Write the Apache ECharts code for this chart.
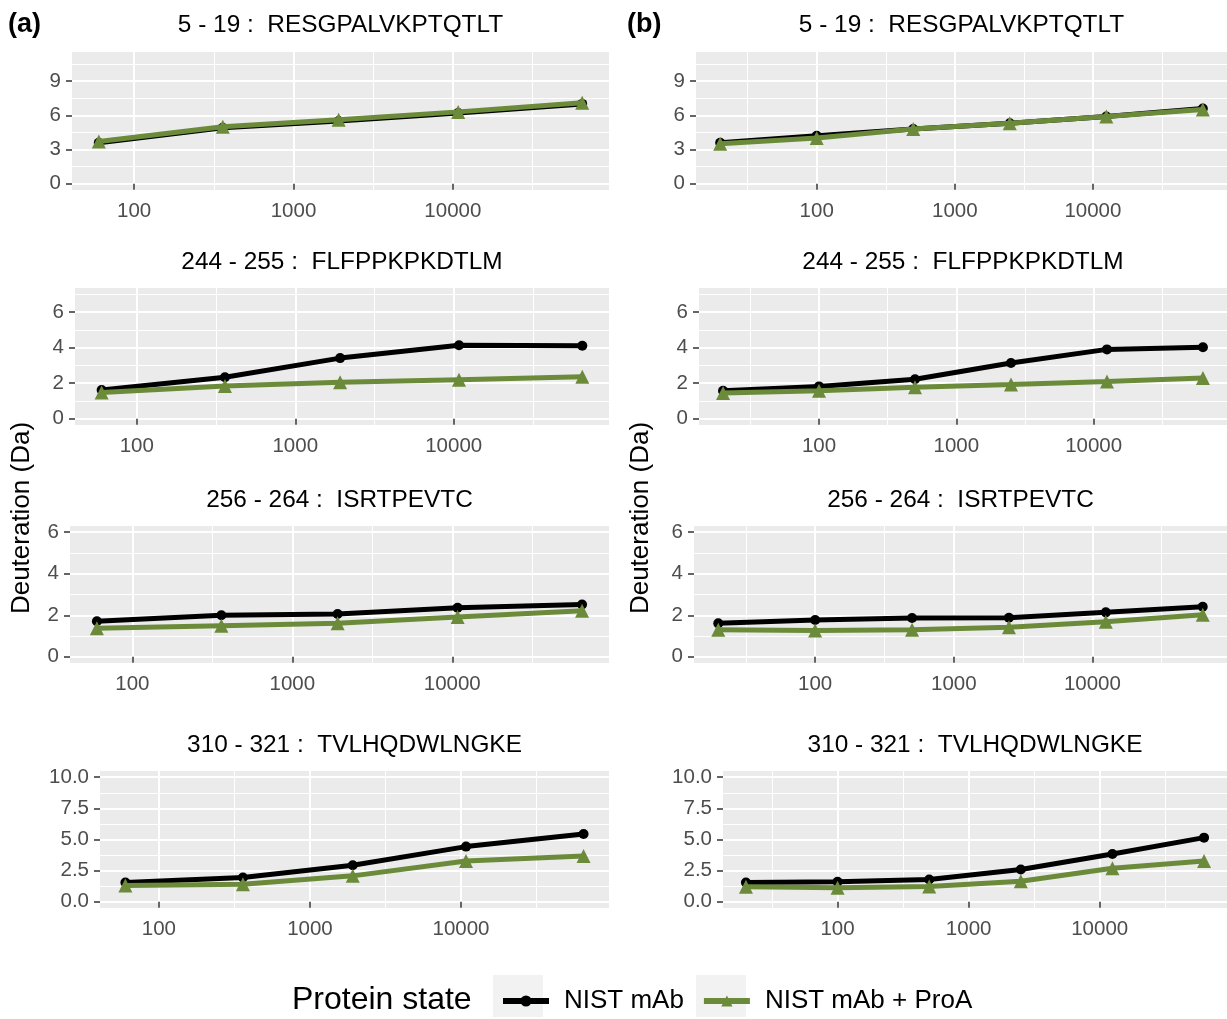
<!DOCTYPE html>
<html>
<head>
<meta charset="UTF-8">
<title>Deuterium uptake - NIST mAb</title>
<script src="https://cdn.jsdelivr.net/npm/echarts@6/dist/echarts.min.js"></script>
<style>
  html, body { margin: 0; padding: 0; background: #fff; }
  #main { width: 1227px; height: 1019px; }
</style>
</head>
<body>
<div id="main"></div>
<script>
// exposure times (s) for each column
const timesA = [60, 360, 1920, 10800, 64800];
const timesB = [20, 100, 500, 2500, 12500, 62500];

const peptides = [
  '5 - 19 :  RESGPALVKPTQTLT',
  '244 - 255 :  FLFPPKPKDTLM',
  '256 - 264 :  ISRTPEVTC',
  '310 - 321 :  TVLHQDWLNGKE'
];

// column (a)
const a1Mab  = [3.6, 4.9, 5.5, 6.2, 7.0];
const a1ProA = [3.7, 5.0, 5.6, 6.3, 7.1];
const a2Mab  = [1.62, 2.33, 3.41, 4.13, 4.10];
const a2ProA = [1.48, 1.84, 2.05, 2.20, 2.36];
const a3Mab  = [1.71, 2.00, 2.06, 2.36, 2.52];
const a3ProA = [1.38, 1.50, 1.61, 1.92, 2.22];
const a4Mab  = [1.55, 1.95, 2.93, 4.43, 5.44];
const a4ProA = [1.30, 1.41, 2.08, 3.28, 3.68];

// column (b)
const b1Mab  = [3.6, 4.2, 4.8, 5.3, 5.9, 6.6];
const b1ProA = [3.5, 4.0, 4.8, 5.3, 5.9, 6.5];
const b2Mab  = [1.58, 1.82, 2.22, 3.13, 3.90, 4.02];
const b2ProA = [1.45, 1.58, 1.77, 1.92, 2.09, 2.29];
const b3Mab  = [1.61, 1.77, 1.87, 1.88, 2.14, 2.41];
const b3ProA = [1.30, 1.26, 1.30, 1.42, 1.69, 2.02];
const b4Mab  = [1.55, 1.60, 1.79, 2.59, 3.84, 5.15];
const b4ProA = [1.20, 1.12, 1.23, 1.65, 2.69, 3.28];

const yLimit = [11, 7, 6, 10];
const yTicks = [[0, 3, 6, 9], [0, 2, 4, 6], [0, 2, 4, 6], [0, 2.5, 5, 7.5, 10]];
const yMinor = [[1.5, 4.5, 7.5, 10.5], [1, 3, 5, 7], [1, 3, 5], [1.25, 3.75, 6.25, 8.75]];
const xTicks = [100, 1000, 10000];
const xMinor = [1.5, 2.5, 3.5, 4.5]; // log10 midpoints

const FONT = '"Liberation Sans", Arial, sans-serif';
const GREEN = '#6B8B3A';

// panel boxes [left, top, width, height]
const boxesA = [[72, 52, 537, 138], [75, 288, 534, 137], [70, 526, 539, 137], [100, 771, 509, 137]];
const boxesB = [[696, 52, 531, 138], [699, 288, 528, 137], [694, 526, 533, 137], [723, 771, 504, 137]];
const rangeA = [1.61, 4.98];
const rangeB = [1.126, 4.971];

const panels = [
  { box: boxesA[0], times: timesA, range: rangeA, mab: a1Mab, proa: a1ProA, row: 0 },
  { box: boxesA[1], times: timesA, range: rangeA, mab: a2Mab, proa: a2ProA, row: 1 },
  { box: boxesA[2], times: timesA, range: rangeA, mab: a3Mab, proa: a3ProA, row: 2 },
  { box: boxesA[3], times: timesA, range: rangeA, mab: a4Mab, proa: a4ProA, row: 3 },
  { box: boxesB[0], times: timesB, range: rangeB, mab: b1Mab, proa: b1ProA, row: 0 },
  { box: boxesB[1], times: timesB, range: rangeB, mab: b2Mab, proa: b2ProA, row: 1 },
  { box: boxesB[2], times: timesB, range: rangeB, mab: b3Mab, proa: b3ProA, row: 2 },
  { box: boxesB[3], times: timesB, range: rangeB, mab: b4Mab, proa: b4ProA, row: 3 }
];

const titleY = [25, 262, 500, 745];

const grid = [], xAxis = [], yAxis = [], series = [], graphic = [];

panels.forEach((p, i) => {
  const [l, t, w, h] = p.box;
  grid.push({ left: l, top: t, width: w, height: h, show: true, backgroundColor: '#EBEBEB', borderWidth: 0 });

  const xt = xTicks.map(v => Math.log10(v));
  const xm = xMinor.filter(v => v > p.range[0] && v < p.range[1]);
  xAxis.push({
    gridIndex: i, type: 'value', position: 'bottom', min: p.range[0], max: p.range[1],
    axisLine: { show: false },
    axisTick: { show: true, length: 6, lineStyle: { color: '#333', width: 1.5 }, customValues: xt },
    axisLabel: { customValues: xt, formatter: v => String(Math.round(Math.pow(10, v))), color: '#4D4D4D', fontSize: 20.5, fontFamily: FONT, margin: 11 },
    splitLine: { show: true, lineStyle: { color: '#fff', width: 2 } }
  });
  xAxis.push({
    gridIndex: i, type: 'value', position: 'top', min: p.range[0], max: p.range[1],
    axisLine: { show: false },
    axisTick: { show: false, customValues: xm },
    axisLabel: { show: false, customValues: xm },
    splitLine: { show: true, lineStyle: { color: '#fff', width: 1 } }
  });

  const L = yLimit[p.row];
  const yt = yTicks[p.row];
  const ym = yMinor[p.row];
  const fmt = p.row === 3 ? (v => v.toFixed(1)) : (v => String(v));
  yAxis.push({
    gridIndex: i, type: 'value', position: 'left', min: -0.05 * L, max: 1.05 * L,
    axisLine: { show: false },
    axisTick: { show: true, length: 6, lineStyle: { color: '#333', width: 1.5 }, customValues: yt },
    axisLabel: { customValues: yt, formatter: fmt, color: '#4D4D4D', fontSize: 20.5, fontFamily: FONT, margin: 11 },
    splitLine: { show: true, lineStyle: { color: '#fff', width: 2 } }
  });
  yAxis.push({
    gridIndex: i, type: 'value', position: 'right', min: -0.05 * L, max: 1.05 * L,
    axisLine: { show: false },
    axisTick: { show: false, customValues: ym },
    axisLabel: { show: false, customValues: ym },
    splitLine: { show: true, lineStyle: { color: '#fff', width: 1 } }
  });

  series.push({
    type: 'line', name: 'NIST mAb', xAxisIndex: 2 * i, yAxisIndex: 2 * i,
    data: p.times.map((tm, k) => [Math.log10(tm), p.mab[k]]),
    symbol: 'circle', symbolSize: 10,
    lineStyle: { color: '#000', width: 5 }, itemStyle: { color: '#000' }, z: 3
  });
  series.push({
    type: 'line', name: 'NIST mAb + ProA', xAxisIndex: 2 * i, yAxisIndex: 2 * i,
    data: p.times.map((tm, k) => [Math.log10(tm), p.proa[k]]),
    symbol: 'triangle', symbolSize: 14,
    lineStyle: { color: GREEN, width: 5 }, itemStyle: { color: GREEN }, z: 4
  });

  graphic.push({
    type: 'text', x: l + w / 2, y: titleY[p.row],
    style: { text: peptides[p.row], font: '24.4px ' + FONT, fill: '#000', textAlign: 'center', textVerticalAlign: 'middle' }
  });
});

// panel tags and shared y titles
graphic.push({ type: 'text', x: 8, y: 25, style: { text: '(a)', font: 'bold 27px ' + FONT, fill: '#000', textVerticalAlign: 'middle' } });
graphic.push({ type: 'text', x: 627, y: 25, style: { text: '(b)', font: 'bold 27px ' + FONT, fill: '#000', textVerticalAlign: 'middle' } });
[22, 641].forEach(x => {
  graphic.push({
    type: 'text', x: x, y: 518, rotation: Math.PI / 2,
    style: { text: 'Deuteration (Da)', font: '26px ' + FONT, fill: '#000', textAlign: 'center', textVerticalAlign: 'middle' }
  });
});

// legend title and key backgrounds
graphic.push({ type: 'text', x: 292, y: 1000, style: { text: 'Protein state', font: '32px ' + FONT, fill: '#000', textVerticalAlign: 'middle' } });
graphic.push({ type: 'rect', z: 0, shape: { x: 493, y: 975, width: 50, height: 42 }, style: { fill: '#F2F2F2' } });
graphic.push({ type: 'rect', z: 0, shape: { x: 696, y: 975, width: 50, height: 42 }, style: { fill: '#F2F2F2' } });

const chart = echarts.init(document.getElementById('main'));
chart.setOption({
  animation: false,
  backgroundColor: '#fff',
  grid, xAxis, yAxis, series, graphic,
  legend: {
    data: ['NIST mAb', 'NIST mAb + ProA'],
    left: 495, top: 983, z: 5,
    itemWidth: 46, itemHeight: 14, itemGap: 17,
    lineStyle: { width: 6 },
    textStyle: { fontSize: 26, color: '#000', fontFamily: FONT, padding: [0, 0, 0, 10] }
  }
});
</script>
</body>
</html>
